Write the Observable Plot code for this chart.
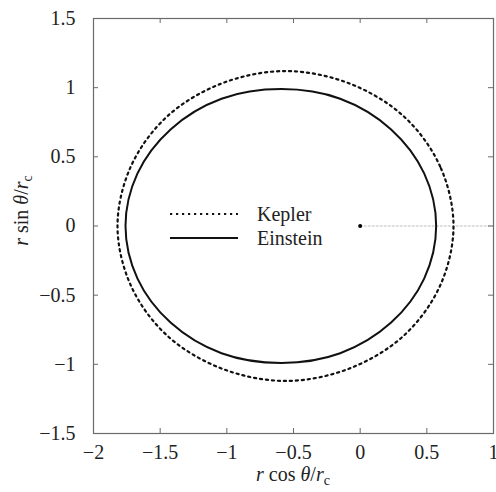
<!DOCTYPE html>
<html><head><meta charset="utf-8">
<script src="https://cdn.jsdelivr.net/npm/d3@7"></script>
<script src="https://cdn.jsdelivr.net/npm/@observablehq/plot@0.6"></script>
<style>body{margin:0;background:#fff} svg text{font-family:"Liberation Serif","Times New Roman","DejaVu Serif",serif !important;}</style>
</head><body><div id="chart"></div>
<script>
// ---- data ----
const xTicks = [-2, -1.5, -1, -0.5, 0, 0.5, 1];
const xTickLabels = ["−2", "−1.5", "−1", "−0.5", "0", "0.5", "1"];
const yTicks = [-1.5, -1, -0.5, 0, 0.5, 1, 1.5];
const yTickLabels = ["−1.5", "−1", "−0.5", "0", "0.5", "1", "1.5"];
const seriesNames = ["Kepler", "Einstein"];

// Kepler orbit (dotted), points read around the curve
const keplerX = [0.70, 0.60, 0.33, -0.08, -0.56, -1.04, -1.45, -1.72, -1.82, -1.72, -1.45, -1.04, -0.56, -0.08, 0.33, 0.60];
const keplerY = [0.00, 0.43, 0.79, 1.03, 1.12, 1.03, 0.79, 0.43, 0.00, -0.43, -0.79, -1.03, -1.12, -1.03, -0.79, -0.43];
// Einstein orbit (solid)
const einsteinX = [0.57, 0.48, 0.23, -0.15, -0.59, -1.04, -1.42, -1.67, -1.76, -1.67, -1.42, -1.04, -0.59, -0.15, 0.23, 0.48];
const einsteinY = [0.00, 0.38, 0.70, 0.92, 0.99, 0.92, 0.70, 0.38, 0.00, -0.38, -0.70, -0.92, -0.99, -0.92, -0.70, -0.38];
// focus (origin) and faint guide line along +x
const originX = [0], originY = [0];
const guideX = [0, 1], guideY = [0, 0];

// ---- layout ----
const W = 496, H = 492, mL = 93, mR = 3, mT = 18, mB = 59;
const plotW = W - mL - mR, plotH = H - mT - mB;
const gray = "#6a6a6a";
const font = "'Liberation Serif', 'Times New Roman', 'DejaVu Serif', serif";

const plot = Plot.plot({
  width: W, height: H,
  marginLeft: mL, marginRight: mR, marginTop: mT, marginBottom: mB,
  x: {domain: [-2, 1]},
  y: {domain: [-1.5, 1.5]},
  style: {fontFamily: font, fontSize: "20px", color: "#222", background: "#fff", overflow: "visible"},
  marks: [
    Plot.line(guideX, {x: d => d, y: (d, i) => guideY[i], stroke: "#bdbdbd", strokeWidth: 1, strokeDasharray: "2,2"}),
    Plot.line(keplerX, {x: d => d, y: (d, i) => keplerY[i], curve: "catmull-rom-closed",
      stroke: "#111", strokeWidth: 2.2, strokeDasharray: "2.2,3.8"}),
    Plot.line(einsteinX, {x: d => d, y: (d, i) => einsteinY[i], curve: "catmull-rom-closed",
      stroke: "#111", strokeWidth: 2}),
    Plot.dot(originX, {x: d => d, y: (d, i) => originY[i], r: 2, fill: "#000", stroke: null}),
    Plot.frame({stroke: gray, strokeWidth: 1.2}),
    Plot.tickX(xTicks, {x: d => d, insetTop: plotH - 5, stroke: gray}),
    Plot.tickX(xTicks, {x: d => d, insetBottom: plotH - 5, stroke: gray}),
    Plot.tickY(yTicks, {y: d => d, insetRight: plotW - 5, stroke: gray}),
    Plot.tickY(yTicks, {y: d => d, insetLeft: plotW - 5, stroke: gray}),
    Plot.axisX({ticks: xTicks, tickSize: 0, tickPadding: 11, label: null,
      tickFormat: d => xTickLabels[xTicks.indexOf(d)]}),
    Plot.axisY({ticks: yTicks, tickSize: 0, tickPadding: 18, label: null,
      tickFormat: d => yTickLabels[yTicks.indexOf(d)]})
  ]
});
document.getElementById("chart").append(plot);

// ---- rich axis labels and legend ----
const svg = d3.select(plot);
function richLabel(sel, fn) {
  const t = sel.append("text").attr("text-anchor", "middle")
    .attr("font-family", font).attr("font-size", 20).attr("fill", "#222");
  t.append("tspan").attr("font-style", "italic").text("r");
  t.append("tspan").text(" " + fn + " ");
  t.append("tspan").attr("font-style", "italic").text("θ");
  t.append("tspan").text("/");
  t.append("tspan").attr("font-style", "italic").text("r");
  t.append("tspan").attr("font-size", 14).attr("dy", 4).text("c");
  return t;
}
richLabel(svg, "cos").attr("x", mL + plotW / 2).attr("y", 481);
richLabel(svg.append("g").attr("transform", `translate(28,${mT + plotH / 2 - 15}) rotate(-90)`), "sin");

const leg = svg.append("g");
const legendRows = [
  {name: seriesNames[0], dash: "2.2,3.8", y: 214},
  {name: seriesNames[1], dash: null, y: 238}
];
legendRows.forEach(r => {
  leg.append("line").attr("x1", 170).attr("x2", 238).attr("y1", r.y).attr("y2", r.y)
    .attr("stroke", "#111").attr("stroke-width", r.dash ? 2.2 : 2)
    .attr("stroke-dasharray", r.dash);
  leg.append("text").attr("x", 257).attr("y", r.y + 6.5).attr("text-anchor", "start")
    .attr("font-family", font).attr("font-size", 20).attr("fill", "#222").text(r.name);
});
</script>
</body></html>
